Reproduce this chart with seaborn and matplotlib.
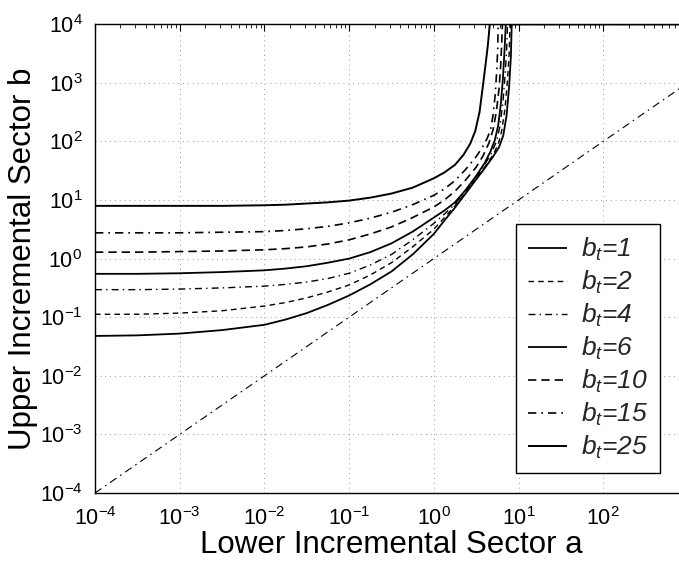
import numpy as np
import pandas as pd
import matplotlib
matplotlib.use("Agg")
import matplotlib.pyplot as plt
from matplotlib.font_manager import FontProperties
from matplotlib.ticker import LogLocator, LogFormatterSciNotation, NullFormatter
import seaborn as sns

# Sector boundary curves, stored as log10 coordinates (a, b); each ends on the b = 1e4 cap
LOG_A_BT1 = [-4, -3.5, -3, -2.5, -2, -1.75, -1.5, -1.25, -1, -0.75, -0.5, -0.25, 0, 0.125, 0.25,
             0.375, 0.5, 0.6, 0.7, 0.77, 0.82, 0.86, 0.89, 0.91, 0.92, 3.0]
LOG_B_BT1 = [-1.32, -1.31, -1.28, -1.22, -1.13, -1.04, -0.93, -0.79, -0.63, -0.44, -0.22, 0.07, 0.42,
             0.65, 0.87, 1.11, 1.35, 1.54, 1.74, 1.90, 2.10, 2.45, 2.95, 3.45, 4.0, 4.0]

LOG_A_BT2 = [-4, -3.5, -3, -2.5, -2, -1.75, -1.5, -1.25, -1, -0.75, -0.5, -0.25, 0, 0.125, 0.25,
             0.375, 0.5, 0.6, 0.7, 0.76, 0.8, 0.84, 0.87, 0.89, 0.90, 3.0]
LOG_B_BT2 = [-0.95, -0.95, -0.93, -0.89, -0.81, -0.75, -0.67, -0.57, -0.45, -0.28, -0.07, 0.20, 0.50,
             0.70, 0.90, 1.13, 1.37, 1.56, 1.77, 1.95, 2.17, 2.55, 3.05, 3.5, 4.0, 4.0]

LOG_A_BT4 = [-4, -3.5, -3, -2.5, -2, -1.75, -1.5, -1.25, -1, -0.75, -0.5, -0.25, 0, 0.125, 0.25,
             0.375, 0.5, 0.6, 0.68, 0.74, 0.78, 0.815, 0.84, 0.86, 0.87, 3.0]
LOG_B_BT4 = [-0.53, -0.53, -0.52, -0.50, -0.47, -0.44, -0.40, -0.34, -0.25, -0.11, 0.07, 0.32, 0.60,
             0.76, 0.93, 1.15, 1.39, 1.60, 1.80, 2.00, 2.25, 2.65, 3.10, 3.55, 4.0, 4.0]

LOG_A_BT6 = [-4, -3.5, -3, -2.5, -2, -1.75, -1.5, -1.25, -1, -0.75, -0.5, -0.25, 0, 0.125, 0.25,
             0.375, 0.5, 0.6, 0.67, 0.72, 0.76, 0.79, 0.815, 0.835, 0.85, 3.0]
LOG_B_BT6 = [-0.26, -0.26, -0.25, -0.23, -0.20, -0.17, -0.13, -0.07, 0.00, 0.11, 0.26, 0.46, 0.70,
             0.82, 0.96, 1.17, 1.41, 1.63, 1.83, 2.02, 2.27, 2.62, 3.05, 3.55, 4.0, 4.0]

LOG_A_BT10 = [-4, -3.5, -3, -2.5, -2, -1.75, -1.5, -1.25, -1, -0.75, -0.5, -0.25, 0, 0.125, 0.25,
              0.375, 0.5, 0.58, 0.65, 0.7, 0.74, 0.77, 0.79, 0.80, 0.81, 3.0]
LOG_B_BT10 = [0.11, 0.11, 0.12, 0.13, 0.15, 0.17, 0.20, 0.25, 0.32, 0.42, 0.54, 0.70, 0.88,
              1.00, 1.15, 1.34, 1.56, 1.75, 1.97, 2.20, 2.52, 2.90, 3.30, 3.62, 4.0, 4.0]

LOG_A_BT15 = [-4, -3.5, -3, -2.5, -2, -1.75, -1.5, -1.25, -1, -0.75, -0.5, -0.25, 0, 0.125, 0.25,
              0.375, 0.5, 0.57, 0.63, 0.67, 0.70, 0.725, 0.745, 0.755, 0.76, 3.0]
LOG_B_BT15 = [0.44, 0.44, 0.44, 0.45, 0.46, 0.48, 0.51, 0.55, 0.61, 0.69, 0.79, 0.92, 1.08,
              1.19, 1.33, 1.52, 1.74, 1.89, 2.05, 2.20, 2.45, 2.80, 3.25, 3.60, 4.0, 4.0]

LOG_A_BT25 = [-4, -3.5, -3, -2.5, -2, -1.75, -1.5, -1.25, -1, -0.75, -0.5, -0.25, 0, 0.125, 0.25,
              0.35, 0.43, 0.49, 0.54, 0.58, 0.61, 0.635, 0.65, 0.66, 3.0]
LOG_B_BT25 = [0.90, 0.90, 0.90, 0.90, 0.91, 0.92, 0.94, 0.96, 0.99, 1.04, 1.11, 1.21, 1.37,
              1.47, 1.60, 1.77, 1.96, 2.18, 2.50, 2.95, 3.30, 3.60, 3.82, 4.0, 4.0]

# Reference diagonal b = a
DIAG_A = [1e-4, 1e3]
DIAG_B = [1e-4, 1e3]

BT_LABELS = ["1", "2", "4", "6", "10", "15", "25"]
CURVES = [
    (LOG_A_BT1, LOG_B_BT1),
    (LOG_A_BT2, LOG_B_BT2),
    (LOG_A_BT4, LOG_B_BT4),
    (LOG_A_BT6, LOG_B_BT6),
    (LOG_A_BT10, LOG_B_BT10),
    (LOG_A_BT15, LOG_B_BT15),
    (LOG_A_BT25, LOG_B_BT25),
]

sns.set_theme(style="white")
plt.rcParams["font.family"] = ["Liberation Sans", "DejaVu Sans"]
plt.rcParams["mathtext.fontset"] = "custom"
plt.rcParams["mathtext.rm"] = "Liberation Sans"
plt.rcParams["mathtext.it"] = "Liberation Sans:italic"
plt.rcParams["mathtext.bf"] = "Liberation Sans:bold"

W, H = 679, 563
fig = plt.figure(figsize=(W / 100, H / 100), dpi=100)
fig.patch.set_facecolor("white")

left, bottom = 95, 493
dec_x = 84.7
dec_y = 58.6
ax_w = 7 * dec_x
ax = fig.add_axes([left / W, (H - bottom) / H, ax_w / W, 8 * dec_y / H])
ax.set_facecolor("white")

dash_styles = [
    (0, ()),             # solid
    (0, (4, 3)),         # dashed
    (0, (5, 3, 1, 3)),   # dash-dot
    (0, ()),
    (0, (5, 3)),
    (0, (5, 3, 1, 3)),
    (0, ()),
]
widths = [1.3, 1.0, 1.0, 1.3, 1.2, 1.2, 1.4]

for (la, lb), lab, ls, lw in zip(CURVES, BT_LABELS, dash_styles, widths):
    df = pd.DataFrame({"a": np.power(10.0, la), "b": np.power(10.0, lb)})
    sns.lineplot(data=df, x="a", y="b", ax=ax, color="black", linestyle=ls,
                 linewidth=lw, sort=False, estimator=None,
                 label=r"$b_t$=" + lab, clip_on=True)

sns.lineplot(x=DIAG_A, y=DIAG_B, ax=ax, color="black", linestyle=(0, (7, 4, 1.5, 4)),
             linewidth=0.8, sort=False, estimator=None)

ax.set_xscale("log")
ax.set_yscale("log")
ax.set_xlim(1e-4, 1e3)
ax.set_ylim(1e-4, 1e4)

ax.set_xticks([10.0 ** k for k in range(-4, 3)])
ax.set_yticks([10.0 ** k for k in range(-4, 5)])
ax.xaxis.set_major_formatter(LogFormatterSciNotation())
ax.yaxis.set_major_formatter(LogFormatterSciNotation())
ax.xaxis.set_minor_locator(LogLocator(base=10, subs=np.arange(2, 10), numticks=20))
ax.yaxis.set_minor_locator(LogLocator(base=10, subs=np.arange(2, 10), numticks=20))
ax.xaxis.set_minor_formatter(NullFormatter())
ax.yaxis.set_minor_formatter(NullFormatter())

ax.tick_params(which="both", direction="in", top=True, right=True, colors="black")
ax.tick_params(which="major", length=5, width=0.8, labelsize=15.5)
ax.tick_params(which="minor", length=3, width=0.6)
ax.tick_params(axis="x", which="major", pad=10)
ax.tick_params(axis="y", which="major", pad=9)

ax.grid(True, which="major", linestyle=(0, (1, 4)), color="#999999", linewidth=0.7)

for s in ax.spines.values():
    s.set_color("black")
    s.set_linewidth(1.0)

ax.set_xlabel("Lower Incremental Sector a", fontsize=22.5, color="black", labelpad=0)
ax.set_ylabel("Upper Incremental Sector b", fontsize=22.5, color="black")
ax.yaxis.set_label_coords((38 - left) / ax_w, 0.5)

leg = ax.legend(loc="upper left", bbox_to_anchor=(516 / W, 1 - 224 / H),
                bbox_transform=fig.transFigure, borderaxespad=0,
                prop=FontProperties(family="Liberation Sans", style="italic", size=19),
                frameon=True, fancybox=False, framealpha=1, edgecolor="black",
                handlelength=1.5, handletextpad=0.5, labelspacing=0.22, borderpad=0.45)
leg.get_frame().set_linewidth(1.0)
leg.get_frame().set_facecolor("white")

fig.savefig("out.png", dpi=100, facecolor="white")
